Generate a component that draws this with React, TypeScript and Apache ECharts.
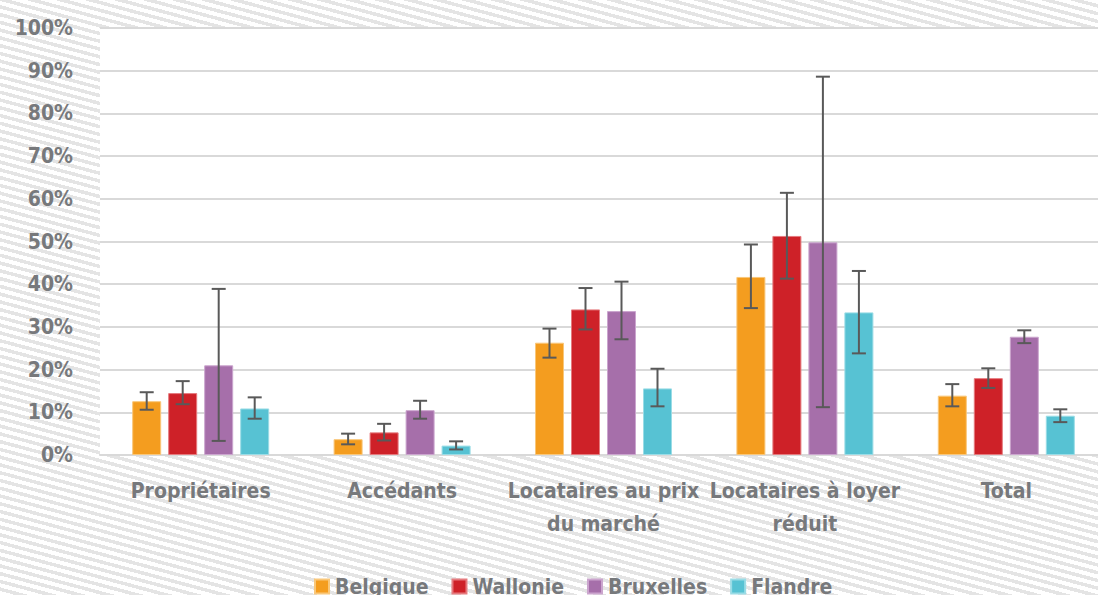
import React, { useEffect, useRef } from "react";
import * as echarts from "echarts";

const categories = [
  "Propriétaires",
  "Accédants",
  "Locataires au prix\ndu marché",
  "Locataires à loyer\nréduit",
  "Total",
];
const seriesNames = ["Belgique", "Wallonie", "Bruxelles", "Flandre"];
const colors = ["#F49D1F", "#CE2128", "#A66FAA", "#57C2D3"];
const borderColors = ["#F9C77A", "#E57A7E", "#CBA5CE", "#9ADCE6"];

const belgique = [12.6, 3.7, 26.3, 41.7, 13.9];
const wallonie = [14.5, 5.3, 34.1, 51.3, 18.0];
const bruxelles = [21.0, 10.5, 33.7, 49.8, 27.7];
const flandre = [10.9, 2.2, 15.6, 33.4, 9.2];

const belgiqueLow = [10.6, 2.5, 22.8, 34.4, 11.4];
const belgiqueHigh = [14.7, 5.0, 29.6, 49.3, 16.6];
const wallonieLow = [11.9, 3.4, 29.4, 41.3, 15.7];
const wallonieHigh = [17.3, 7.3, 39.1, 61.4, 20.3];
const bruxellesLow = [3.3, 8.5, 27.1, 11.2, 26.2];
const bruxellesHigh = [38.9, 12.7, 40.6, 88.6, 29.2];
const flandreLow = [8.5, 1.3, 11.4, 23.8, 7.7];
const flandreHigh = [13.5, 3.2, 20.2, 43.1, 10.7];

const yTicks = { min: 0, max: 100, interval: 10 };

const values = [belgique, wallonie, bruxelles, flandre];
const lows = [belgiqueLow, wallonieLow, bruxellesLow, flandreLow];
const highs = [belgiqueHigh, wallonieHigh, bruxellesHigh, flandreHigh];

const FONT = "'Liberation Sans Narrow', 'DejaVu Sans Condensed', sans-serif";
const TEXT = "#77797c";
const BAR_W = 29;
const BAR_GAP = 7;

export default function App() {
  const ref = useRef<HTMLDivElement>(null);
  useEffect(() => {
    if (!ref.current) return;
    const chart = echarts.init(ref.current, undefined, { renderer: "svg" });

    const barSeries = seriesNames.map((name, i) => ({
      name,
      type: "bar",
      data: values[i],
      barWidth: BAR_W,
      barGap: `${(BAR_GAP / BAR_W) * 100}%`,
      itemStyle: { color: colors[i], borderColor: borderColors[i], borderWidth: 1 },
      z: 2,
    }));

    const errSeries = seriesNames.map((name, i) => ({
      name: name + "-err",
      type: "custom",
      z: 10,
      silent: true,
      encode: { x: 0, y: [1, 2] },
      data: categories.map((_, c) => [c, lows[i][c], highs[i][c]]),
      renderItem: (params: any, api: any) => {
        const c = api.value(0);
        const lo = api.coord([c, api.value(1)]);
        const hi = api.coord([c, api.value(2)]);
        const offset = (i - 1.5) * (BAR_W + BAR_GAP);
        const x = lo[0] + offset;
        const half = 7;
        const style = { stroke: "#595959", lineWidth: 2 };
        return {
          type: "group",
          children: [
            { type: "line", shape: { x1: x, y1: lo[1], x2: x, y2: hi[1] }, style },
            { type: "line", shape: { x1: x - half, y1: lo[1], x2: x + half, y2: lo[1] }, style },
            { type: "line", shape: { x1: x - half, y1: hi[1], x2: x + half, y2: hi[1] }, style },
          ],
        };
      },
    }));

    chart.setOption({
      animation: false,
      backgroundColor: "transparent",
      textStyle: { fontFamily: FONT },
      grid: {
        left: 100,
        top: 28,
        width: 1007,
        height: 427,
        show: true,
        backgroundColor: "#ffffff",
        borderWidth: 0,
        containLabel: false,
        outerBoundsMode: "none",
      },
      legend: {
        data: seriesNames,
        left: 314,
        top: 576,
        padding: 0,
        itemWidth: 14,
        itemHeight: 14,
        itemGap: 23,
        icon: "rect",
        textStyle: { color: TEXT, fontSize: 21, fontWeight: "bold", fontFamily: FONT, padding: [0, 0, 0, 1] },
      },
      xAxis: {
        type: "category",
        data: categories,
        axisLine: { show: true, lineStyle: { color: "#d9d9d9", width: 2 } },
        axisTick: { show: false },
        axisLabel: {
          interval: 0,
          color: TEXT,
          fontSize: 21,
          fontWeight: "bold",
          fontFamily: FONT,
          lineHeight: 33,
          margin: 19,
        },
      },
      yAxis: {
        type: "value",
        min: yTicks.min,
        max: yTicks.max,
        interval: yTicks.interval,
        axisLine: { show: false },
        axisTick: { show: false },
        splitLine: { lineStyle: { color: "#d9d9d9", width: 2 } },
        axisLabel: {
          formatter: "{value}%",
          color: TEXT,
          fontSize: 21,
          fontWeight: "bold",
          fontFamily: FONT,
          margin: 27,
        },
      },
      series: [...barSeries, ...errSeries],
    });
    return () => chart.dispose();
  }, []);

  return (
    <div
      style={{
        position: "fixed",
        left: 0,
        top: 0,
        width: 1098,
        height: 595,
        overflow: "hidden",
        background:
          "repeating-linear-gradient(195deg, #ffffff 0px, #ffffff 4px, #e4e4e4 4px, #e4e4e4 7.5px)",
      }}
    >
      <div ref={ref} style={{ width: 1120, height: 595 }} />
    </div>
  );
}
